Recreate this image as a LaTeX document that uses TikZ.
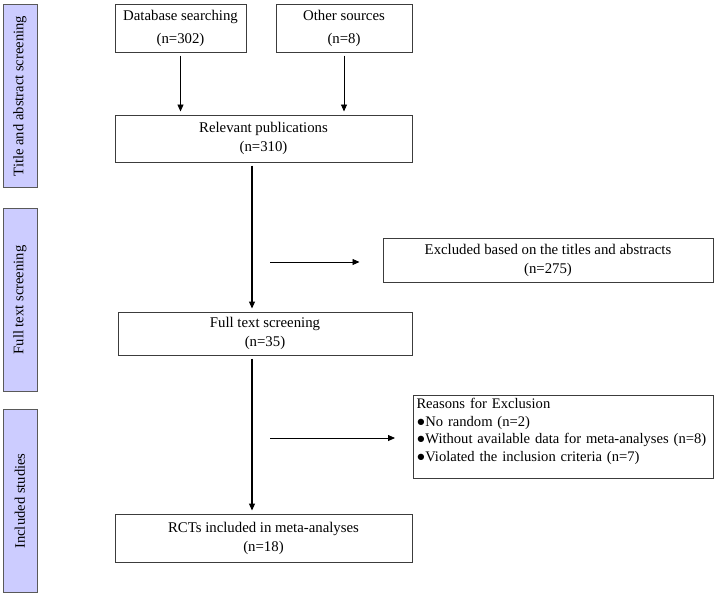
\documentclass[tikz,border=0pt]{standalone}
\usepackage{fontspec}
\setmainfont{Liberation Serif}
\usetikzlibrary{arrows.meta,positioning}
\definecolor{barfill}{RGB}{204,204,255}
\definecolor{boxline}{RGB}{60,60,60}

\begin{document}
\begin{tikzpicture}[
  x=1pt, y=-1pt,
  >={Triangle[length=7pt,width=6pt]},
  box/.style={draw=boxline, line width=1pt, inner sep=4pt, align=center,
    font=\fontsize{14.8}{19}\selectfont},
  stage/.style={draw=gray!70!black, fill=barfill, line width=1pt, rotate=90,
    minimum width=183pt, minimum height=34pt, inner sep=0pt,
    font=\fontsize{14.6}{18}\selectfont},
  flow/.style={->, line width=1.2pt, shorten <=3pt, shorten >=3pt},
  side/.style={->, line width=0.8pt},
]
\useasboundingbox (0,0) rectangle (717,598);
% stage bars
\node[stage] (s1) at (20,96) {Title and abstract screening};
\node[stage] (s2) at (20,300) {Full text screening};
\node[stage] (s3) at (20,501) {Included studies};
% nodes
\node[box, minimum width=131pt, minimum height=48pt,
  font=\fontsize{14.8}{23}\selectfont] (db) at (180.5,28)
  {Database searching\\(n=302)};
\node[box, minimum width=136pt, minimum height=48pt,
  font=\fontsize{14.8}{23}\selectfont] (oth) at (344,28)
  {Other sources\\(n=8)};
\node[box, minimum width=297pt, minimum height=47pt] (rel) at (263.5,138.5)
  {Relevant publications\\(n=310)};
\node[box, minimum width=330pt, minimum height=44pt] (exc) at (548,260)
  {Excluded based on the titles and abstracts\\(n=275)};
\node[box, minimum width=294pt, minimum height=43pt] (full) at (265,333.5)
  {Full text screening\\(n=35)};
\node[box, anchor=north west, text width=294pt, inner sep=3pt, text depth=67pt,
  align=left, font=\fontsize{14.6}{17.5}\selectfont] (rsn) at (413,395)
  {Reasons for Exclusion\\●No random (n=2)\\●Without available data for meta-analyses (n=8)\\●Violated the inclusion criteria (n=7)};
\node[box, minimum width=297pt, minimum height=48pt] (rct) at (263.5,538)
  {RCTs included in meta-analyses\\(n=18)};
% spine of the main flow and free ends of the side arrows
\coordinate (spine) at (252,0);
\coordinate (e1) at (270,262);
\coordinate (e2) at (270,438);
% edges
\draw[flow, line width=0.9pt] (db.south) -- (db.south |- rel.north);
\draw[flow, line width=0.9pt] (oth.south) -- (oth.south |- rel.north);
\draw[flow] (spine |- rel.south) -- (spine |- full.north);
\draw[flow] (spine |- full.south) -- (spine |- rct.north);
\draw[side, shorten >=23pt] (e1) -- (e1 -| exc.west);
\draw[side, shorten >=18pt] (e2) -- (e2 -| rsn.west);
\end{tikzpicture}
\end{document}
